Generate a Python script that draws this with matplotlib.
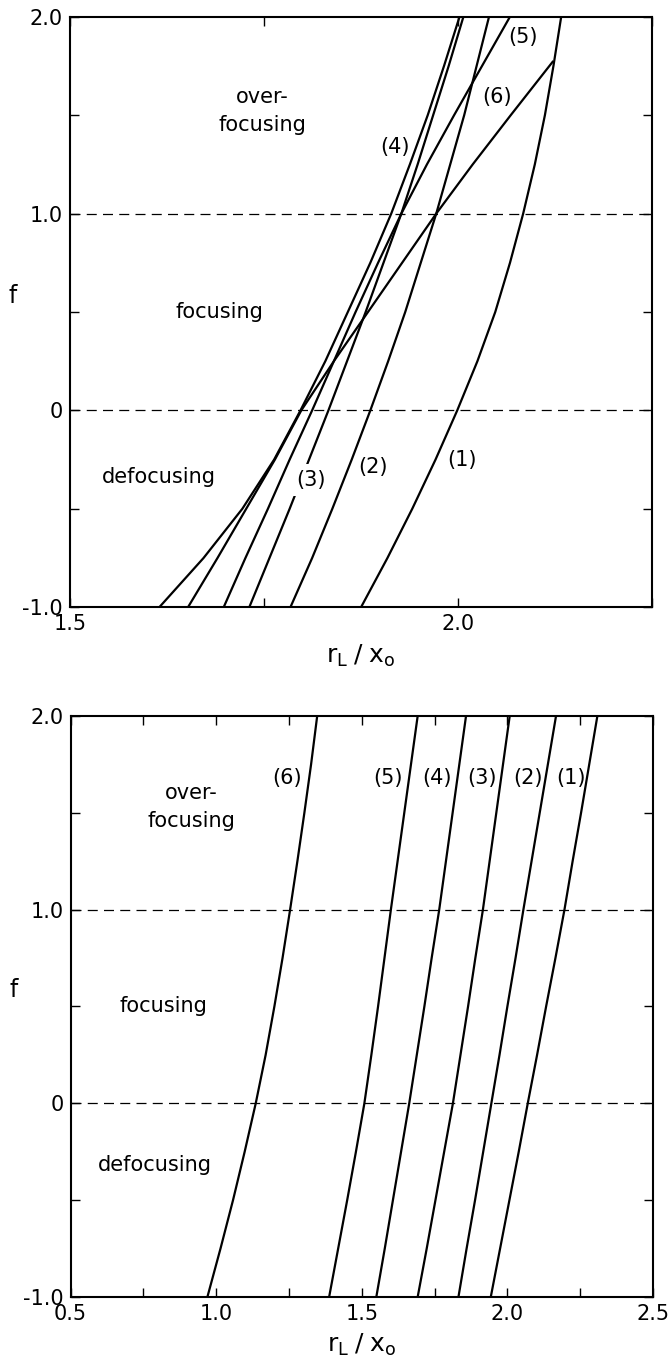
import matplotlib
matplotlib.use("Agg")
import matplotlib.pyplot as plt

plt.rcParams['font.family'] = ['DejaVu Sans']

# ---------------- data ----------------
f_levels = [-1.0, -0.75, -0.5, -0.25, 0.0, 0.25, 0.5, 0.75, 1.0, 1.25, 1.5, 1.75, 2.0]

# top panel: r_L/x_0 at each f level
top_c1 = [1.875, 1.909, 1.941, 1.971, 1.999, 2.025, 2.048, 2.067, 2.084, 2.099, 2.112, 2.123, 2.133]
top_c2 = [1.784, 1.812, 1.838, 1.863, 1.887, 1.910, 1.932, 1.952, 1.972, 1.990, 2.008, 2.024, 2.040]
top_c3 = [1.731, 1.757, 1.783, 1.808, 1.833, 1.857, 1.881, 1.904, 1.927, 1.948, 1.968, 1.988, 2.007]
top_c4 = [1.615, 1.672, 1.722, 1.763, 1.797, 1.829, 1.858, 1.887, 1.914, 1.938, 1.961, 1.982, 2.002]
top_c5 = [1.698, 1.726, 1.755, 1.783, 1.812, 1.840, 1.868, 1.897, 1.927, 1.960, 1.995, 2.031, 2.067]
top_c6_f = [-1.0, -0.75, -0.5, -0.25, 0.0, 0.25, 0.5, 0.75, 1.0, 1.25, 1.5, 1.771]
top_c6 = [1.652, 1.690, 1.727, 1.764, 1.798, 1.840, 1.884, 1.928, 1.972, 2.019, 2.068, 2.122]

# bottom panel
bot_c1 = [1.943, 1.975, 2.007, 2.039, 2.070, 2.102, 2.133, 2.165, 2.196, 2.224, 2.253, 2.281, 2.309]
bot_c2 = [1.832, 1.860, 1.889, 1.917, 1.945, 1.973, 2.000, 2.028, 2.055, 2.083, 2.111, 2.139, 2.167]
bot_c3 = [1.692, 1.723, 1.753, 1.783, 1.813, 1.839, 1.865, 1.890, 1.916, 1.939, 1.962, 1.985, 2.008]
bot_c4 = [1.550, 1.579, 1.607, 1.635, 1.663, 1.689, 1.715, 1.740, 1.766, 1.789, 1.812, 1.835, 1.858]
bot_c5 = [1.388, 1.419, 1.450, 1.480, 1.509, 1.533, 1.556, 1.578, 1.600, 1.623, 1.646, 1.669, 1.692]
bot_c6 = [0.970, 1.015, 1.058, 1.098, 1.136, 1.170, 1.200, 1.228, 1.254, 1.279, 1.303, 1.326, 1.347]

curve_labels = ['(1)', '(2)', '(3)', '(4)', '(5)', '(6)']
top_label_pos = [(2.005, -0.25), (1.890, -0.285), (1.811, -0.353), (1.919, 1.34), (2.084, 1.895), (2.050, 1.594)]
bot_label_pos = [(2.218, 1.682), (2.070, 1.682), (1.913, 1.682), (1.758, 1.682), (1.590, 1.682), (1.242, 1.682)]

y_ticks = [-1.0, -0.5, 0.0, 0.5, 1.0, 1.5, 2.0]
y_ticklabels = ['-1.0', '', '0', '', '1.0', '', '2.0']
top_xticks = [1.5, 1.75, 2.0, 2.25]
top_xticklabels = ['1.5', '', '2.0', '']
bot_xticks = [0.5, 0.75, 1.0, 1.25, 1.5, 1.75, 2.0, 2.25, 2.5]
bot_xticklabels = ['0.5', '', '1.0', '', '1.5', '', '2.0', '', '2.5']
boundaries = [0.0, 1.0]
region_text = ['over-\nfocusing', 'focusing', 'defocusing']
top_region_pos = [(1.748, 1.52), (1.692, 0.50), (1.614, -0.34)]
bot_region_pos = [(0.915, 1.53), (0.819, 0.50), (0.789, -0.32)]

# ---------------- figure ----------------
W, H = 670, 1368
fig = plt.figure(figsize=(W / 100, H / 100), dpi=100)
ax1 = fig.add_axes([70 / W, 1 - 607.3 / H, 582 / W, 590.6 / H])
ax2 = fig.add_axes([70.5 / W, 1 - 1297 / H, 582.5 / W, 581 / H])

lw = 1.6
fs = 15


def style(ax, xlim, xticks, xticklabels):
    ax.set_xlim(*xlim)
    ax.set_ylim(-1.0, 2.0)
    ax.set_xticks(xticks)
    ax.set_xticklabels(xticklabels, fontsize=fs)
    ax.set_yticks(y_ticks)
    ax.set_yticklabels(y_ticklabels, fontsize=fs)
    ax.tick_params(direction='in', length=6.5, width=1.0, top=True, right=True, pad=5)
    for s in ax.spines.values():
        s.set_linewidth(1.5)
    for b in boundaries:
        ax.axhline(b, color='black', lw=0.9, linestyle=(0, (8, 5)), zorder=1)
    ax.set_xlabel(r'$\mathregular{r_L\;/\;x_o}$', fontsize=fs + 3, labelpad=6)
    ax.set_ylabel('f', fontsize=fs + 2, rotation=0)
    ax.yaxis.set_label_coords(-0.098, 0.507)


style(ax1, (1.5, 2.25), top_xticks, top_xticklabels)
style(ax2, (0.5, 2.5), bot_xticks, bot_xticklabels)

top_curves = [top_c1, top_c2, top_c3, top_c4, top_c5]
for xs in top_curves:
    ax1.plot(xs, f_levels, color='black', lw=lw, zorder=2, solid_joinstyle='round')
ax1.plot(top_c6, top_c6_f, color='black', lw=lw, zorder=2, solid_joinstyle='round')

for lab, (x, y) in zip(curve_labels, top_label_pos):
    kw = {}
    if lab == '(3)':
        kw = dict(bbox=dict(facecolor='white', edgecolor='none', pad=4))
    ax1.text(x, y, lab, fontsize=fs, ha='center', va='center', zorder=3, **kw)

for xs in [bot_c1, bot_c2, bot_c3, bot_c4, bot_c5, bot_c6]:
    ax2.plot(xs, f_levels, color='black', lw=lw, zorder=2, solid_joinstyle='round')
for lab, (x, y) in zip(curve_labels, bot_label_pos):
    ax2.text(x, y, lab, fontsize=fs, ha='center', va='center', zorder=3)

for ax, pos in [(ax1, top_region_pos), (ax2, bot_region_pos)]:
    for t, (x, y) in zip(region_text, pos):
        ax.text(x, y, t, fontsize=fs, ha='center', va='center', linespacing=1.5)

fig.savefig('out.png', dpi=100, facecolor='white')
